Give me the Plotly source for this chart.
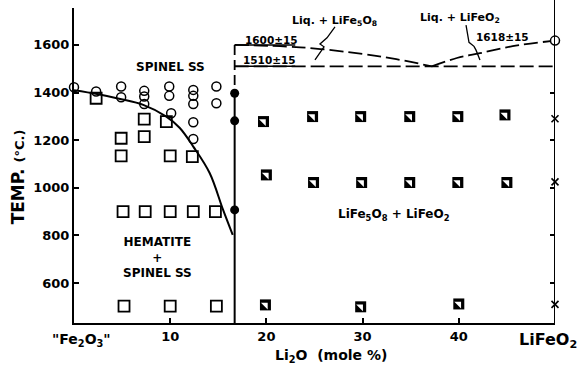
import plotly.graph_objects as go

# Fe2O3 - LiFeO2 section of the Li2O-Fe2O3 system
x_min, x_max = 0, 50
t_min, t_max = 432, 1755
spinel_x = 16.7          # LiFe5O8 composition
liquidus_spinel_t = 1600
eutectic_t = 1510
lifeo2_melt_t = 1618

# hematite + spinel ss / spinel ss boundary
solvus_x = [0, 2.4, 4.8, 7.2, 9.6, 11.0, 12.4, 14.1, 15.5, 16.5]
solvus_t = [1410, 1394, 1373, 1348, 1299, 1251, 1173, 1062, 907, 802]

# liquidus branches
liq_left_x = [16.7, 23.5, 30.0, 33.5, 37.2]
liq_left_t = [1600, 1590, 1562, 1540, 1510]
liq_right_x = [37.2, 39.8, 42.2, 45.6, 50.0]
liq_right_t = [1510, 1545, 1565, 1595, 1618]

# open circles: spinel ss
ss_x = [0, 2.3, 4.9, 4.9, 7.3, 7.3, 7.3, 9.9, 9.9, 10.1, 12.4, 12.4, 12.4, 12.4, 12.4, 14.8, 14.8]
ss_t = [1422, 1404, 1425, 1380, 1407, 1383, 1352, 1425, 1386, 1313, 1411, 1386, 1352, 1275, 1205, 1425, 1355]

# open squares: hematite + spinel ss
hs_x = [2.3, 4.9, 4.9, 7.3, 7.3, 9.6, 10.0, 12.3, 5.1, 7.4, 10.0, 12.4, 14.7, 5.2, 10.0, 14.8]
hs_t = [1376, 1208, 1134, 1288, 1215, 1278, 1134, 1131, 900, 900, 900, 900, 900, 503, 503, 503]

# filled circles on the LiFe5O8 line
sp_t = [1397, 1281, 907]

# half-filled squares: LiFe5O8 + LiFeO2
two_x = [19.7, 24.8, 29.8, 34.9, 39.9, 44.8, 20.0, 24.9, 29.9, 34.9, 39.9, 45.0, 19.9, 29.8, 40.0]
two_t = [1278, 1299, 1299, 1299, 1299, 1306, 1054, 1022, 1022, 1022, 1022, 1022, 508, 500, 512]

# crosses at LiFeO2
lf_t = [1290, 1025, 510]

x_ticks = [10, 20, 30, 40]
t_ticks = [600, 800, 1000, 1200, 1400, 1600]
t_ticks_right = [600, 800, 1000, 1200, 1400]

FONT = "DejaVu Sans"
dash = "14px,5px"

fig = go.Figure()

def line(x, y, width=2, dash_style=None, shape="linear", yaxis="y"):
    fig.add_trace(go.Scatter(
        x=x, y=y, mode="lines", yaxis=yaxis, hoverinfo="skip", showlegend=False,
        cliponaxis=False,
        line=dict(color="black", width=width, dash=dash_style, shape=shape)))

# phase boundaries
line(solvus_x, solvus_t, 2, None, "spline")
line(liq_left_x, liq_left_t, 1.8, dash, "spline")
line(liq_right_x, liq_right_t, 1.8, dash, "spline")
line([spinel_x, x_max], [eutectic_t, eutectic_t], 1.8, dash)
line([spinel_x, 23.0], [liquidus_spinel_t, liquidus_spinel_t], 1.5)
line([spinel_x, 23.0], [eutectic_t, eutectic_t], 1.5)
line([spinel_x, spinel_x], [liquidus_spinel_t, 1400], 1.8, "10px,5px")
line([spinel_x, spinel_x], [1400, t_min], 2)

# label leaders
line([27.13, 26.3, 25.57, 25.99, 25.05], [1676, 1630, 1604, 1592, 1537], 1.3)
line([40.75, 41.06, 41.58, 41.79, 42.2], [1683, 1611, 1594, 1578, 1537], 1.3)

def pts(x, y, yaxis="y", **marker):
    fig.add_trace(go.Scatter(x=x, y=y, mode="markers", hoverinfo="skip", yaxis=yaxis,
                             showlegend=False, cliponaxis=False, marker=marker))

pts(ss_x, ss_t, symbol="circle-open", size=9, color="black", line=dict(width=1.5, color="black"))
pts(hs_x, hs_t, symbol="square-open", size=11, color="black", line=dict(width=1.8, color="black"))
pts([spinel_x] * len(sp_t), sp_t, symbol="circle", size=9, color="black")
pts(two_x, two_t, symbol="square", size=11, color="black")
pts(two_x, two_t, symbol="triangle-ne", size=7.5, color="white")
pts([x_max], [lifeo2_melt_t], symbol="circle", size=9, color="white",
    line=dict(width=1.5, color="black"))
pts([x_max] * len(lf_t), lf_t, yaxis="y2", symbol="x-thin-open", size=7, color="black",
    line=dict(width=1.6, color="black"))

# right border (LiFeO2) runs up past the plotting area
fig.add_shape(type="line", xref="x", yref="paper", x0=x_max, x1=x_max, y0=0, y1=1.03,
              line=dict(color="black", width=2))

def txt(x, y, s, size=12, **kw):
    fig.add_annotation(x=x, y=y, text=s, showarrow=False, xanchor="center", yanchor="middle",
                       font=dict(family=FONT, size=size, color="black", weight="bold"), **kw)

txt(10.0, 1508, "SPINEL SS", 12)
txt(8.7, 709, "HEMATITE<br>+<br>SPINEL SS", 12)
txt(33.3, 886, "LiFe<sub>5</sub>O<sub>8</sub> + LiFeO<sub>2</sub>", 12)
txt(20.5, 1621, "1600±15", 10.5)
txt(20.3, 1537, "1510±15", 10.5)
txt(27.1, 1701, "Liq. + LiFe<sub>5</sub>O<sub>8</sub>", 11)
txt(40.1, 1714, "Liq. + LiFeO<sub>2</sub>", 11)
txt(44.5, 1634, "1618±15", 10.5)

# axis-end labels and titles
txt(0.0146, -0.055, "\"Fe<sub>2</sub>O<sub>3</sub>\"", 14, xref="paper", yref="paper")
txt(0.985, -0.055, "LiFeO<sub>2</sub>", 16, xref="paper", yref="paper")
txt(0.534, -0.105, "Li<sub>2</sub>O  (mole %)", 14, xref="paper", yref="paper")
txt(-0.116, 0.463, "TEMP. <span style='font-size:13px'>(°C.)</span>", 17,
    xref="paper", yref="paper", textangle=-90)

tick_font = dict(size=13, family=FONT, weight="bold", color="black")

fig.update_layout(
    width=577, height=369,
    margin=dict(l=74, r=22, t=8, b=46, autoexpand=False),
    paper_bgcolor="white", plot_bgcolor="white",
    font=dict(family=FONT, color="black"),
    xaxis=dict(range=[x_min, x_max], showgrid=False, zeroline=False,
               showline=True, linecolor="black", linewidth=2,
               ticks="inside", ticklen=5, tickwidth=1.5, tickcolor="black",
               tickvals=x_ticks, tickfont=tick_font),
    yaxis=dict(range=[t_min, t_max], showgrid=False, zeroline=False,
               showline=True, linecolor="black", linewidth=2,
               ticks="inside", ticklen=5, tickwidth=1.5, tickcolor="black",
               tickvals=t_ticks, tickfont=tick_font),
    yaxis2=dict(range=[t_min, t_max], overlaying="y", side="right",
                showgrid=False, zeroline=False, showline=False,
                ticks="inside", ticklen=5, tickwidth=1.5, tickcolor="black",
                tickvals=t_ticks_right, showticklabels=False),
)

fig.write_html("out.html")
